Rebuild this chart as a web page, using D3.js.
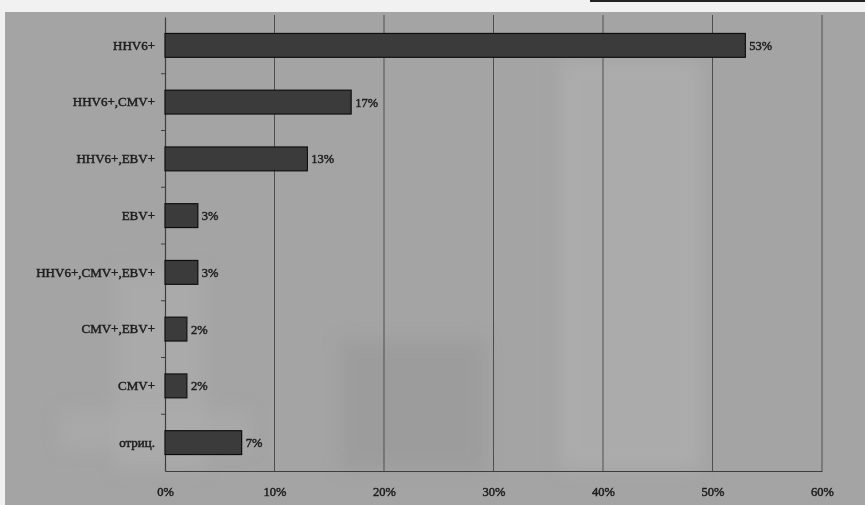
<!DOCTYPE html>
<html>
<head>
<meta charset="utf-8">
<script src="https://cdn.jsdelivr.net/npm/d3@7/dist/d3.min.js"></script>
<style>
  html, body { margin: 0; padding: 0; background: #f2f2f2; }
  svg { display: block; }
</style>
</head>
<body>
<svg id="chart" width="865" height="505"></svg>
<script>
// Infection groups and their share of patients
const categories = ["HHV6+", "HHV6+,CMV+", "HHV6+,EBV+", "EBV+", "HHV6+,CMV+,EBV+", "CMV+,EBV+", "CMV+", "отриц."];
const shares = [53, 17, 13, 3, 3, 2, 2, 7];
const xTicks = [0, 10, 20, 30, 40, 50, 60];

const svg = d3.select("#chart");
const W = 865, H = 505;
const margin = { left: 165, right: 43, top: 15, bottom: 34 };

const defs = svg.append("defs");
defs.append("filter").attr("id", "soft")
  .append("feGaussianBlur").attr("stdDeviation", 0.45);
defs.append("filter").attr("id", "haze")
  .append("feGaussianBlur").attr("stdDeviation", 8);

// paper strip, black edge at top right
svg.append("rect").attr("x", 0).attr("y", 0).attr("width", W).attr("height", H).attr("fill", "#f1f1f1");
svg.append("rect").attr("x", 590).attr("y", 0).attr("width", 275).attr("height", 2).attr("fill", "#222");

// chart background
svg.append("rect").attr("x", 5).attr("y", 12).attr("width", W - 5).attr("height", H - 12).attr("fill", "#a4a4a4");

// faint patches bleeding through from the reverse side
const patches = svg.append("g").attr("filter", "url(#haze)");
patches.append("rect").attr("x", 560).attr("y", 60).attr("width", 140).attr("height", 410).attr("fill", "#b0b0b0").attr("opacity", 0.6);
patches.append("rect").attr("x", 340).attr("y", 340).attr("width", 145).attr("height", 130).attr("fill", "#989898").attr("opacity", 0.6);
patches.append("rect").attr("x", 115).attr("y", 270).attr("width", 90).attr("height", 200).attr("fill", "#b0b0b0").attr("opacity", 0.5);
patches.append("rect").attr("x", 60).attr("y", 410).attr("width", 190).attr("height", 40).attr("fill", "#b0b0b0").attr("opacity", 0.4);

const x = d3.scaleLinear().domain([0, 60]).range([margin.left, W - margin.right]);
const y = d3.scaleBand().domain(categories).range([margin.top + 2, H - margin.bottom]).paddingInner(0.58).paddingOuter(0.29);
const yOuter = d3.scaleBand().domain(categories).range([margin.top + 2, H - margin.bottom]);

const g = svg.append("g").attr("filter", "url(#soft)");
const textStyle = sel => sel
  .attr("font-family", "'Liberation Serif', serif")
  .attr("fill", "#1c1c1c").attr("stroke", "#1c1c1c").attr("stroke-width", 0.45);

// vertical gridlines
g.append("g").selectAll("line").data(xTicks.slice(1)).join("line")
  .attr("x1", d => x(d)).attr("x2", d => x(d))
  .attr("y1", margin.top).attr("y2", H - margin.bottom)
  .attr("stroke", "#4e4e4e").attr("stroke-width", 1);

// x axis
const xAxis = d3.axisBottom(x).tickValues(xTicks).tickFormat(d => d + "%").tickSize(0).tickPadding(16);
const xg = g.append("g").attr("transform", `translate(0,${H - margin.bottom})`).call(xAxis);
xg.select(".domain").attr("stroke", "#3c3c3c").attr("stroke-width", 1.2);
xg.selectAll("text").call(textStyle).attr("font-size", 12.5);

// y axis with ticks between categories
const yAxis = d3.axisLeft(y).tickSize(0).tickPadding(10);
const yg = g.append("g").attr("transform", `translate(${margin.left},0)`).call(yAxis);
yg.select(".domain").attr("stroke", "#3c3c3c").attr("stroke-width", 1.2);
yg.selectAll("text").call(textStyle).attr("font-size", 13);
g.append("g").selectAll("line").data(categories.slice(1)).join("line")
  .attr("x1", margin.left - 4).attr("x2", margin.left)
  .attr("y1", d => yOuter(d)).attr("y2", d => yOuter(d))
  .attr("stroke", "#3c3c3c");

// bars
g.append("g").selectAll("rect").data(categories).join("rect")
  .attr("x", x(0)).attr("y", d => y(d))
  .attr("width", (d, i) => x(shares[i]) - x(0))
  .attr("height", y.bandwidth())
  .attr("fill", "#3b3b3b").attr("stroke", "#111").attr("stroke-width", 1.2);

// value labels
g.append("g").selectAll("text").data(categories).join("text")
  .attr("x", (d, i) => x(shares[i]) + 4)
  .attr("y", d => y(d) + y.bandwidth() / 2)
  .attr("dy", "0.35em")
  .call(textStyle).attr("font-size", 12.5)
  .text((d, i) => shares[i] + "%");
</script>
</body>
</html>
